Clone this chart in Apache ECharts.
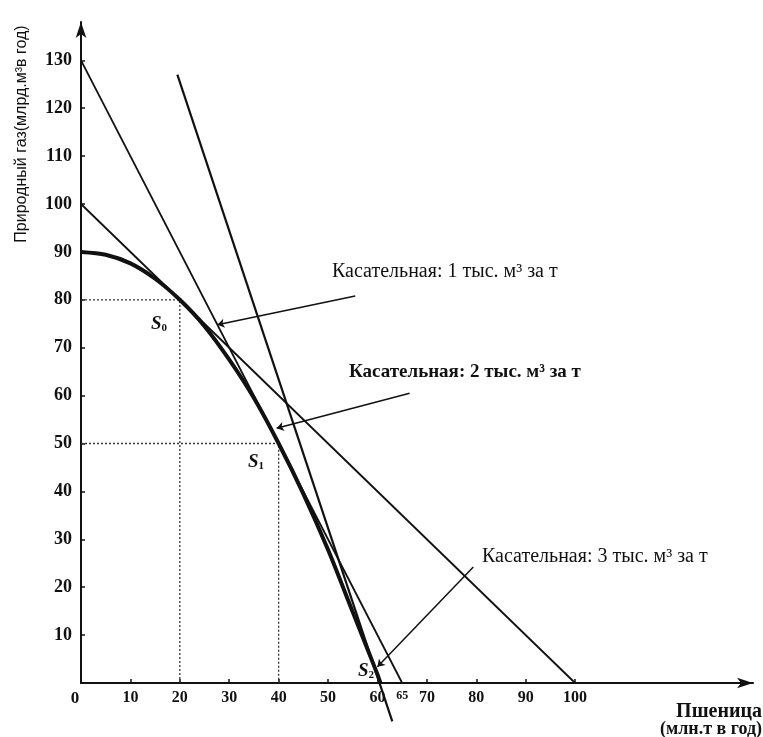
<!DOCTYPE html>
<html><head><meta charset="utf-8">
<script src="https://cdn.jsdelivr.net/npm/echarts@6/dist/echarts.min.js"></script>
<style>html,body{margin:0;padding:0;background:#fff}#c{width:763px;height:737px}</style>
</head><body><div id="c"></div>
<script>
// ---- data ----
const ppfWheat = [0, 5, 10, 15, 20, 25, 30, 35, 40, 45, 50, 55, 60, 60.6];
const ppfGas   = [90, 89.4, 87.6, 84.4, 80, 74.5, 67.5, 59.5, 50, 39.5, 27.8, 14.8, 1.8, 0];
const tangent1 = [[0, 100], [100, 0]];
const tangent2 = [[0, 130], [65, 0]];
const tangent3 = [[19.5, 127], [63, -8]];
const guideS0 = [[0, 80], [20, 80], [20, 0]];
const guideS1 = [[0, 50], [40, 50], [40, 0]];
const arrowLines = [
  [[55.5, 80.8], [27.6, 74.8]],
  [[66.5, 60.5], [39.6, 53.2]],
  [[79.4, 24.2], [60.0, 3.4]]
];
const xTickLabels = [0, 10, 20, 30, 40, 50, 60, 65, 70, 80, 90, 100];
const xTicks = [10, 20, 30, 40, 50, 60, 70, 80, 90, 100];
const yTickLabels = [10, 20, 30, 40, 50, 60, 70, 80, 90, 100, 110, 120, 130];
const tangentTexts = [
  'Касательная: 1 тыс. м³ за т',
  'Касательная: 2 тыс. м³ за т',
  'Касательная: 3 тыс. м³ за т'
];
const yTitle = 'Природный газ(млрд.м³в год)';
const xTitle1 = 'Пшеница';
const xTitle2 = '(млн.т в год)';

const serif = '"Liberation Serif", "DejaVu Serif", serif';
const ink = '#111';
const chart = echarts.init(document.getElementById('c'), null, {renderer: 'canvas'});

const lineSeries = (data, w, extra) => Object.assign({
  type: 'line', data: data, showSymbol: false, silent: true, animation: false,
  lineStyle: {color: ink, width: w}
}, extra || {});

const subLabel = (x, y, n) => ({
  type: 'text', x: x, y: y,
  style: {text: '{s|S}{b|' + n + '}', fill: ink, textVerticalAlign: 'middle',
    rich: {s: {font: 'italic bold 19px ' + serif, fill: ink}, b: {font: 'bold 11px ' + serif, fill: ink, padding: [8, 0, 0, 0]}}}
});

chart.setOption({
  animation: false,
  backgroundColor: '#fff',
  grid: {left: 81, right: 10, top: 22, bottom: 54, containLabel: false},
  xAxis: {
    type: 'value', min: 0, max: 136,
    splitLine: {show: false},
    axisLine: {lineStyle: {color: ink, width: 2}, symbol: ['none', 'arrow'], symbolSize: [8, 16]},
    axisTick: {inside: true, length: 4, lineStyle: {color: ink, width: 1.5}, customValues: xTicks},
    axisLabel: {
      customValues: xTickLabels, margin: 7, color: ink,
      fontFamily: serif, fontWeight: 'bold', fontSize: 16,
      formatter: v => v === 65 ? '{s|65}' : (v === 0 ? '{z|0}' : String(v)),
      rich: {
        s: {fontFamily: serif, fontSize: 12, fontWeight: 'bold', color: ink, padding: [0, 0, 8, 0]},
        z: {fontFamily: serif, fontSize: 17, fontWeight: 'bold', color: ink, padding: [0, 12, 0, 0]}
      }
    }
  },
  yAxis: {
    type: 'value', min: 0, max: 138,
    splitLine: {show: false},
    axisLine: {lineStyle: {color: ink, width: 2}, symbol: ['none', 'arrow'], symbolSize: [8, 16]},
    axisTick: {inside: true, length: 4, lineStyle: {color: ink, width: 1.5}, customValues: yTickLabels},
    axisLabel: {customValues: yTickLabels, margin: 9, color: ink, fontFamily: serif, fontWeight: 'bold', fontSize: 18}
  },
  series: [
    lineSeries(guideS0, 1.3, {lineStyle: {color: '#333', width: 1.3, type: [2, 2]}}),
    lineSeries(guideS1, 1.3, {lineStyle: {color: '#333', width: 1.3, type: [2, 2]}}),
    lineSeries(tangent1, 1.8),
    lineSeries(tangent2, 1.8),
    lineSeries(tangent3, 2.2, {clip: false}),
    lineSeries(ppfWheat.map((x, i) => [x, ppfGas[i]]), 4, {smooth: 0.3, clip: false}),
    {
      type: 'lines', coordinateSystem: 'cartesian2d', silent: true, animation: false,
      symbol: ['none', 'arrow'], symbolSize: 7,
      lineStyle: {color: ink, width: 1.5, opacity: 1},
      data: arrowLines.map(c => ({coords: c}))
    }
  ],
  graphic: [
    {type: 'text', x: 332, y: 272, style: {text: tangentTexts[0], fill: ink, font: '20px ' + serif, textVerticalAlign: 'middle'}},
    {type: 'text', x: 349, y: 372, style: {text: tangentTexts[1], fill: ink, font: 'bold 19px ' + serif, textVerticalAlign: 'middle'}},
    {type: 'text', x: 482, y: 557, style: {text: tangentTexts[2], fill: ink, font: '20px ' + serif, textVerticalAlign: 'middle'}},
    {type: 'text', x: 22, y: 134, rotation: Math.PI / 2,
      style: {text: yTitle, fill: ink, font: '16px "Liberation Sans", Arial, sans-serif', textAlign: 'center', textVerticalAlign: 'middle'}},
    {type: 'text', x: 762, y: 712, style: {text: xTitle1, fill: ink, font: 'bold 20px ' + serif, textAlign: 'right', textVerticalAlign: 'middle'}},
    {type: 'text', x: 762, y: 729, style: {text: xTitle2, fill: ink, font: 'bold 18px ' + serif, textAlign: 'right', textVerticalAlign: 'middle'}},
    subLabel(151, 324, 0),
    subLabel(248, 462, 1),
    subLabel(358, 671, 2)
  ]
});
</script>
</body></html>
